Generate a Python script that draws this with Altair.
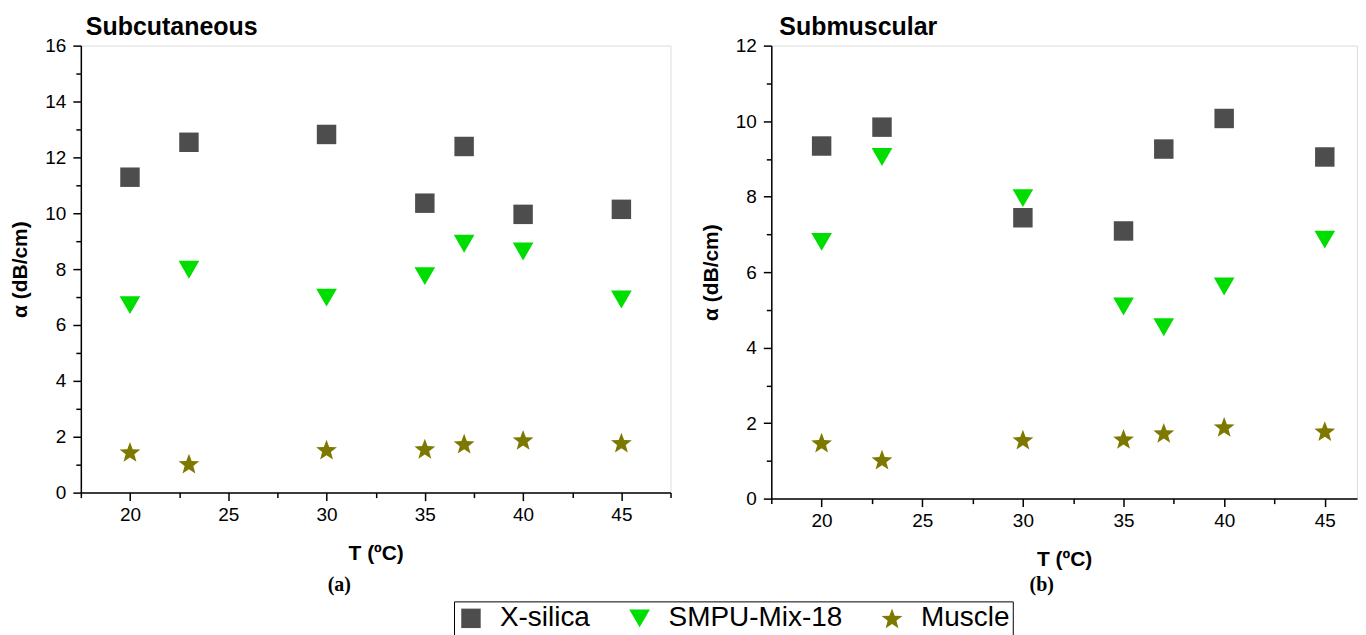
import altair as alt
import pandas as pd

# ---------------- data ----------------
temperatures = [20, 23, 30, 35, 37, 40, 45]
series_names = ["X-silica", "SMPU-Mix-18", "Muscle"]

# Subcutaneous (a)
sub_xsilica = [11.29, 12.54, 12.82, 10.36, 12.39, 9.96, 10.14]
sub_smpu = [6.71, 7.98, 6.98, 7.75, 8.91, 8.63, 6.91]
sub_muscle = [1.46, 1.04, 1.54, 1.57, 1.75, 1.89, 1.79]

# Submuscular (b)
subm_xsilica = [9.34, 9.84, 7.44, 7.09, 9.26, 10.07, 9.05]
subm_smpu = [6.80, 9.05, 7.96, 5.09, 4.54, 5.62, 6.86]
subm_muscle = [1.48, 1.03, 1.56, 1.58, 1.74, 1.90, 1.79]

x_major_ticks = [20, 25, 30, 35, 40, 45]
x_minor_ticks = [17.5, 22.5, 27.5, 32.5, 37.5, 42.5, 47.5]
sub_y_major = [0, 2, 4, 6, 8, 10, 12, 14, 16]
sub_y_minor = [1, 3, 5, 7, 9, 11, 13, 15]
subm_y_major = [0, 2, 4, 6, 8, 10, 12]
subm_y_minor = [1, 3, 5, 7, 9, 11]

# ---------------- styling ----------------
series_colors = ["#4d4d4d", "#00dd00", "#7d7900"]
STAR = ("M0,-0.905L0.247,-0.245L0.951,-0.214L0.399,0.225L0.588,0.904"
        "L0,0.515L-0.588,0.904L-0.399,0.225L-0.951,-0.214L-0.247,-0.245Z")
series_shapes = ["square", "triangle-down", STAR]
series_sizes = [380, 480, 540]

FONT = "Liberation Sans"
PAD_L, PAD_T = 1, 5
PLOT_X0, PLOT_Y0 = 79, 44   # page position of the left plot area (legend origin)


def long_df(values_by_series):
    rows = []
    for name, vals in zip(series_names, values_by_series):
        for t, v in zip(temperatures, vals):
            rows.append({"T": t, "alpha": v, "Series": name})
    return pd.DataFrame(rows)


legend = alt.Legend(
    orient="none", legendX=453 - PLOT_X0, legendY=601 - PLOT_Y0,
    direction="horizontal", title=None,
    labelFont=FONT, labelFontSize=28, labelColor="black", labelOffset=15,
    labelLimit=400,
    symbolSize=600, symbolStrokeWidth=0, symbolType="square",
    columnPadding=35, padding=3, strokeColor="black",
    fillColor="white",
)


def panel(df, title, title_dx, ymax, y_major, y_minor, xmax, width, height,
          tag, tag_x, tag_y):
    xs = alt.Scale(domain=[17.5, xmax], nice=False, zero=False)
    ys = alt.Scale(domain=[0, ymax], nice=False, zero=False)
    axis_common = dict(domainColor="black", tickColor="black", domainWidth=1.5,
                       tickWidth=1.5, grid=False)
    pts = alt.Chart(df).mark_point(filled=True, opacity=1, strokeWidth=0).encode(
        x=alt.X("T:Q", scale=xs, axis=alt.Axis(
            values=x_major_ticks, title="T (ºC)", orient="bottom", tickSize=8,
            labelFont=FONT, labelFontSize=19, labelColor="black", labelPadding=5,
            titleFont=FONT, titleFontSize=21, titleFontWeight="bold",
            titleColor="black", titlePadding=18, format="d", **axis_common)),
        y=alt.Y("alpha:Q", scale=ys, axis=alt.Axis(
            values=y_major, title="α (dB/cm)", orient="left", tickSize=8,
            labelFont=FONT, labelFontSize=19, labelColor="black", labelPadding=7,
            titleFont=FONT, titleFontSize=21, titleFontWeight="bold",
            titleColor="black", titlePadding=14, format="d", **axis_common)),
        color=alt.Color("Series:N", scale=alt.Scale(domain=series_names, range=series_colors),
                        legend=legend),
        shape=alt.Shape("Series:N", scale=alt.Scale(domain=series_names, range=series_shapes),
                        legend=legend),
        size=alt.Size("Series:N", scale=alt.Scale(domain=series_names, range=series_sizes),
                      legend=None),
    )
    minor = alt.Chart(df).mark_point(opacity=0).encode(
        x=alt.X("T:Q", scale=xs, axis=alt.Axis(
            values=x_minor_ticks, orient="bottom", labels=False, domain=False,
            tickSize=5, title=None, tickColor="black", tickWidth=1.5, grid=False)),
        y=alt.Y("alpha:Q", scale=ys, axis=alt.Axis(
            values=y_minor, orient="left", labels=False, domain=False,
            tickSize=5, title=None, tickColor="black", tickWidth=1.5, grid=False)),
    )
    tag_layer = alt.Chart(pd.DataFrame({"tag": [tag]})).mark_text(
        font="Liberation Serif", fontSize=20, fontWeight="bold", color="black",
        align="center", baseline="middle",
    ).encode(text="tag:N", x=alt.value(tag_x), y=alt.value(tag_y))
    return alt.layer(pts, minor, tag_layer).resolve_axis(
        x="independent", y="independent"
    ).properties(
        width=width, height=height,
        title=alt.TitleParams(title, anchor="start", frame="group", dx=title_dx,
                              font=FONT, fontSize=25, fontWeight="bold",
                              color="black", offset=-3),
    )


left = panel(long_df([sub_xsilica, sub_smpu, sub_muscle]), "Subcutaneous", 5,
             16, sub_y_major, sub_y_minor, 47.5, 591, 448, "(a)", 259, 541)
right = panel(long_df([subm_xsilica, subm_smpu, subm_muscle]), "Submuscular", 8,
              12, subm_y_major, subm_y_minor, 46.6, 587, 454, "(b)", 271, 541)

chart = alt.hconcat(left, right, spacing=27).properties(
    padding={"left": PAD_L, "top": PAD_T, "right": 0, "bottom": 0},
).configure_view(stroke=None).configure(font=FONT)

chart.save("out.html", embed_options={"renderer": "svg", "actions": False})
